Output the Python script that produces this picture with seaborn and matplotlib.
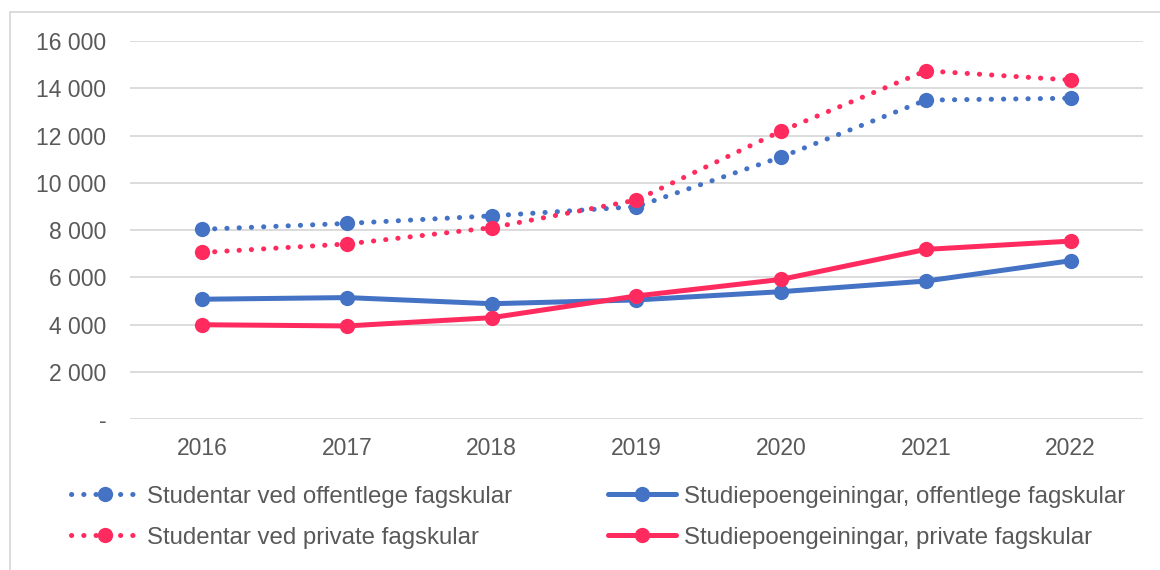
import pandas as pd
import seaborn as sns
import matplotlib.pyplot as plt
from matplotlib.patches import Rectangle
from matplotlib.ticker import FuncFormatter

sns.set_style('white')
plt.rcParams['font.family'] = ['Liberation Sans', 'DejaVu Sans']

years = ['2016', '2017', '2018', '2019', '2020', '2021', '2022']
stud_off = [8030, 8280, 8600, 8990, 11090, 13500, 13580]
stud_priv = [7050, 7410, 8100, 9270, 12190, 14740, 14350]
sp_off = [5070, 5140, 4880, 5040, 5390, 5840, 6700]
sp_priv = [3990, 3940, 4290, 5210, 5910, 7180, 7530]

labels = ['Studentar ved offentlege fagskular',
          'Studiepoengeiningar, offentlege fagskular',
          'Studentar ved private fagskular',
          'Studiepoengeiningar, private fagskular']

blue = '#4472C4'
red = '#FF2B5E'
txt = '#595959'
colors = [blue, blue, red, red]
dotted = [True, False, True, False]

df = pd.DataFrame({'År': years * 4,
                   'Verdi': stud_off + sp_off + stud_priv + sp_priv,
                   'Serie': [l for l in labels for _ in years]})

fig = plt.figure(figsize=(11.6, 5.7), dpi=100)
ax = fig.add_axes([0.1121, 0.2649, 0.8732, 0.6631])

for lab, col, dot in zip(labels, colors, dotted):
    sub = df[df['Serie'] == lab]
    sns.lineplot(data=sub, x='År', y='Verdi', ax=ax, color=col, sort=False,
                 marker='o', markersize=11, markeredgewidth=0,
                 linewidth=3.6, label=lab)
    ln = ax.get_lines()[-1]
    if dot:
        ln.set_linestyle((0, (0.05, 2.4)))
        ln.set_dash_capstyle('round')
    ln.set_solid_capstyle('round')

ax.set_xlim(-0.5, 6.5)
ax.set_ylim(0, 16000)
ax.set_yticks(range(0, 16001, 2000))
ax.yaxis.set_major_formatter(FuncFormatter(
    lambda v, p: '-' if v == 0 else f'{int(v):,}'.replace(',', ' ')))
ax.grid(axis='y', color='#D9D9D9', linewidth=1.3)
ax.grid(axis='x', visible=False)
ax.set_axisbelow(True)
for s in ax.spines.values():
    s.set_visible(False)
ax.set_xlabel('')
ax.set_ylabel('')
ax.tick_params(axis='y', length=0, pad=17, labelsize=16.5, labelcolor=txt)
ax.tick_params(axis='x', length=0, pad=13, labelsize=16.5, labelcolor=txt)

ax.legend_.remove()
h, l = ax.get_legend_handles_labels()
order = [0, 2, 1, 3]
leg = fig.legend([h[i] for i in order], [l[i] for i in order], ncol=2,
                 loc='upper left', bbox_to_anchor=(0.0615, 0.148),
                 frameon=False, fontsize=17.3, handlelength=2.8,
                 handletextpad=0.35, columnspacing=4.0, labelspacing=0.8,
                 borderpad=0, borderaxespad=0)
for t in leg.get_texts():
    t.set_color(txt)

fig.patches.append(Rectangle((10 / 1160, -0.1), 1.2, 1 - 12 / 570 + 0.1,
                             transform=fig.transFigure, fill=False,
                             edgecolor='#D9D9D9', linewidth=1.3))

fig.savefig('out.png', dpi=100)
